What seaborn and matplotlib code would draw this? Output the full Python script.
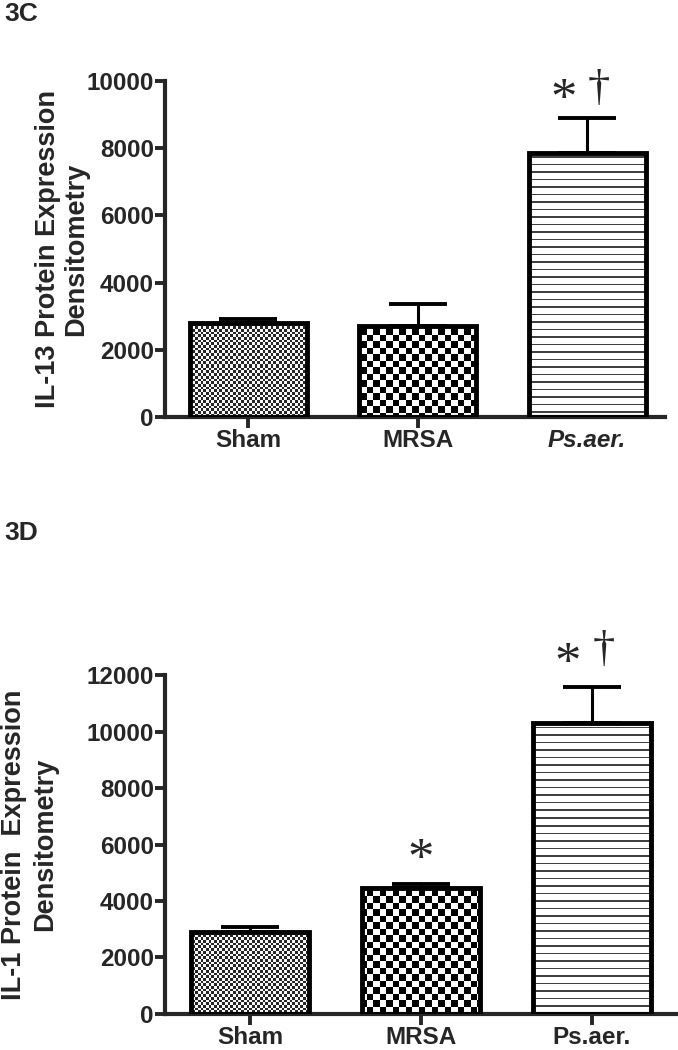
import numpy as np
import matplotlib
matplotlib.use("Agg")
import matplotlib.pyplot as plt
import seaborn as sns

# Data (densitometry, arbitrary units)
groups = ["Sham", "MRSA", "Ps.aer."]
il13_mean = [2800, 2700, 7850]
il13_err = [130, 660, 1040]
il1_mean = [2900, 4460, 10310]
il1_err = [170, 130, 1260]

# significance marks: (group index, symbol, height)
il13_marks = [(2, "*", 9400), (2, "\u2020", 9750)]
il1_marks = [(1, "*", 5400), (2, "*", 12350), (2, "\u2020", 12900)]

sns.set_style("ticks")
plt.rcParams["font.family"] = ["Liberation Sans", "DejaVu Sans"]
plt.rcParams["font.weight"] = "bold"
plt.rcParams["axes.labelweight"] = "bold"


def pattern(kind, w, h):
    """Pixel fill pattern for the bars (black = 0, white = 1)."""
    xx, yy = np.meshgrid(np.arange(w), np.arange(h))
    if kind == "fine":
        c = ((xx / 2.7).astype(int) + (yy / 2.7).astype(int)) % 2
        return np.where(c == 0, 0.15, 0.97)
    if kind == "check":
        c = ((xx / 6.5).astype(int) + (yy / 6.5).astype(int)) % 2
        return np.where(c == 0, 0.0, 1.0)
    c = (yy % 7.5) < 1.4
    return np.where(c, 0.25, 1.0)


def draw_panel(ax, means, errs, marks, ylim, yticks, xlim, ylabel, label_x,
               linespacing, italic_last, hide_last_tick):
    sns.barplot(x=groups, y=means, ax=ax, color="white", edgecolor="black",
                linewidth=3.5, width=0.69, errorbar=None, zorder=3)
    ax.errorbar(x=np.arange(len(groups)), y=means,
                yerr=[np.zeros(len(errs)), errs], fmt="none", ecolor="black",
                elinewidth=2.2, capsize=21, capthick=2.8, zorder=2.5)
    ax.set_xlim(*xlim)
    ax.set_ylim(*ylim)
    ax.set_yticks(yticks)

    # fill bars with pixel patterns clipped to each rectangle
    bb = ax.get_window_extent()
    w, h = int(round(bb.width)), int(round(bb.height))
    for patch, kind in zip(ax.patches[:3], ["fine", "check", "lines"]):
        patch.set_facecolor("none")
        im = ax.imshow(pattern(kind, w, h), cmap="gray", vmin=0, vmax=1,
                       extent=(xlim[0], xlim[1], ylim[0], ylim[1]),
                       aspect="auto", interpolation="nearest", zorder=2)
        im.set_clip_path(patch)
    ax.set_xlim(*xlim)
    ax.set_ylim(*ylim)

    for idx, sym, yv in marks:
        dx = 0.0 if idx == 1 else (-0.14 if sym == "*" else 0.07)
        size = 38 if sym == "*" else 32
        ax.text(idx + dx, yv, sym, ha="center", va="center", fontsize=size,
                family="Liberation Serif", fontweight="normal", clip_on=False)

    sns.despine(ax=ax)
    for side in ["left", "bottom"]:
        ax.spines[side].set_linewidth(3)
    ax.tick_params(axis="y", direction="out", length=7, width=2.8, pad=1,
                   labelsize=17.5)
    ax.tick_params(axis="x", direction="out", length=8, width=2.8, pad=1,
                   labelsize=17.5)
    if italic_last:
        ax.get_xticklabels()[2].set_fontstyle("italic")
    if hide_last_tick:
        ax.xaxis.get_major_ticks()[2].tick1line.set_visible(False)
    ax.set_xlabel("")
    ax.set_ylabel(ylabel, fontsize=19.5, linespacing=linespacing)
    ax.yaxis.set_label_coords(label_x, 0.5)


fig = plt.figure(figsize=(6.78, 10.5), dpi=100)
ax_top = fig.add_axes([0.2434, 0.6029, 0.7375, 0.32])
ax_bot = fig.add_axes([0.2434, 0.0343, 0.7551, 0.3228])

draw_panel(ax_top, il13_mean, il13_err, il13_marks, (0, 10000),
           np.arange(0, 10001, 2000), (-0.49, 2.46),
           "IL-13 Protein Expression\nDensitometry", -0.152, 1.1,
           italic_last=True, hide_last_tick=True)
draw_panel(ax_bot, il1_mean, il1_err, il1_marks, (0, 12000),
           np.arange(0, 12001, 2000), (-0.5, 2.5),
           "IL-1 Protein  Expression\nDensitometry", -0.208, 1.3,
           italic_last=False, hide_last_tick=False)

fig.text(0.007, 1 - 21 / 1050, "3C", fontsize=19, fontweight="bold")
fig.text(0.007, 1 - 540 / 1050, "3D", fontsize=19, fontweight="bold")

fig.savefig("out.png", dpi=100)
